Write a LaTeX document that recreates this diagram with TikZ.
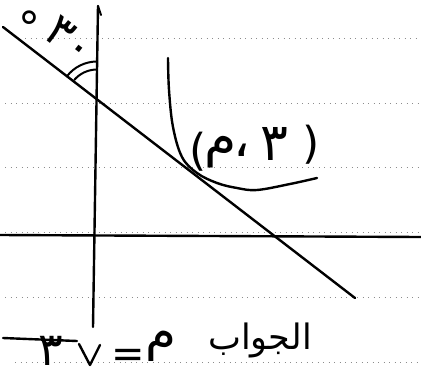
\documentclass[tikz,border=0pt]{standalone}
\usepackage{fontspec}
\usetikzlibrary{calc}
\setmainfont{DejaVu Sans}
\newfontfamily\arabicfont[Script=Arabic]{DejaVu Sans}
\TeXXeTstate=1
\begin{document}
\begin{tikzpicture}[x=1pt,y=-1pt,
  ink/.style={line width=2.4pt, line cap=round, line join=round},
  thin ink/.style={line width=2pt, line cap=round, line join=round},
  guide/.style={black!45, line width=0.8pt, dash pattern=on 1pt off 4.5pt},
  lbl/.style={inner sep=0pt, outer sep=0pt}]
\useasboundingbox (0,0) rectangle (421,376);
\fill[white] (0,0) rectangle (421,376);
% ruled guide lines
\foreach \yy/\xs in {38/25, 103/5, 167/5, 232/5, 297/5, 362/15}
  \draw[guide] (\xs,\yy) -- (421,\yy);
% axes
\coordinate (yt) at (98,6);
\coordinate (yb) at (93,327);
\coordinate (xl) at (0,235);
\coordinate (xr) at (421,237);
\draw[ink] (yt) -- (yb);
\draw[thin ink] (yt) -- (101,15);
\draw[ink] (xl) -- (xr);
% inclined line
\coordinate (ls) at (3,27);
\coordinate (le) at (355,298);
\draw[ink] (ls) -- (le);
% angle marks
\coordinate (O) at (97,99.5);
\draw[thin ink] ($(O)+(217.5:38)$) arc (217.5:270:38);
\draw[thin ink] ($(O)+(221:30)$) arc (221:268:30);
% curve
\draw[ink] plot[smooth, tension=0.6] coordinates {(168,58) (169,90) (173,127) (182,157) (197,173) (217,183) (237,188) (257,190) (290,184) (317,178)};
% angle label
\node[lbl, font=\fontsize{44}{44}\selectfont] (deg) at (29,27) {°};
\node[lbl, rotate=-38, font=\arabicfont\fontsize{46}{46}\selectfont] (ang) at (70,40) {٣٠};
% point label
\node[lbl, font=\fontsize{44}{44}\selectfont] (pl) at (198,152) {(};
\node[lbl, font=\fontsize{44}{44}\selectfont] (pr) at (311,145) {)};
\begin{scope}[every node/.style={lbl, font=\arabicfont\fontsize{52}{52}\selectfont}]
\node (pm) at (221,152) {م};
\node (pc) at (242,150) {،};
\node (p3) at (274,144) {٣};
\end{scope}
% answer
\node[lbl, font=\fontsize{40}{40}\selectfont] (aeq) at (128,358) {=};
\node[lbl, font=\arabicfont\fontsize{46}{46}\selectfont] (a3) at (51,351) {٣};
\node[lbl, font=\arabicfont\fontsize{50}{50}\selectfont] (am) at (161,346) {م};
\node[lbl, font=\arabicfont\fontsize{35}{35}\selectfont] (aw) at (260,340) {\beginR الجواب\endR};
\draw[ink] (3,338) -- (77,341);
\draw[ink] (79,344) -- (90,365) -- (100,345);
\end{tikzpicture}
\end{document}
